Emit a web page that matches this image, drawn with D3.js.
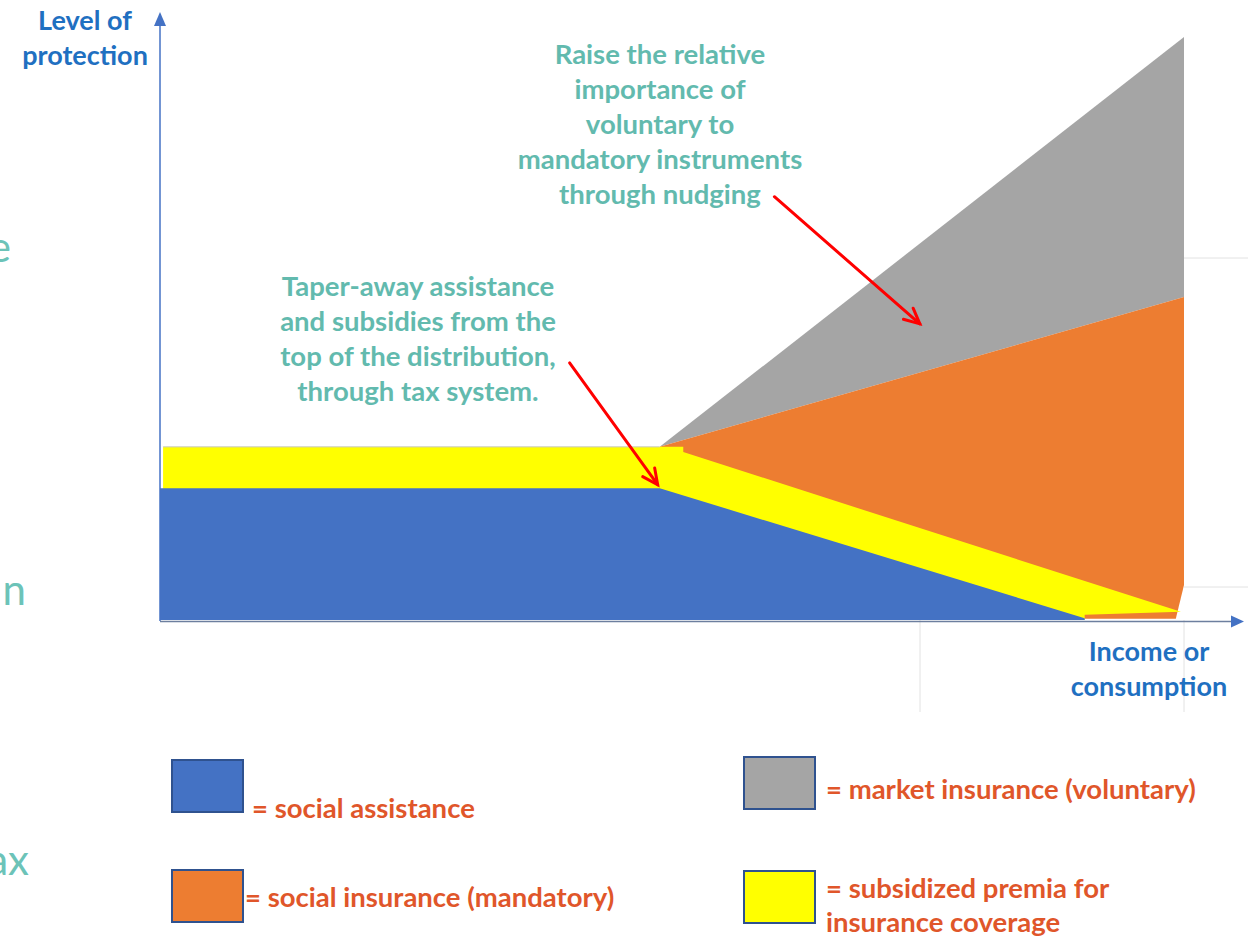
<!DOCTYPE html>
<html>
<head>
<meta charset="utf-8">
<script src="https://cdn.jsdelivr.net/npm/d3@7"></script>
<style>
  body { margin: 0; background: #fff; }
  text { font-family: Lato, "Open Sans", sans-serif; font-weight: 700; }
  text.frag { font-weight: 400; }
</style>
</head>
<body>
<div id="chart"></div>
<script>
// polygon outlines of each layer, in (income, protection) units 0..100
var socialAssistance = [[0, 0], [0, 22.6], [48.8, 22.6], [90.3, 0.3], [90.3, 0]];
// the yellow band reaches down under the blue so no seam shows
var subsidizedPremia = [[0.3, 29.7], [51.1, 29.7], [51.1, 28.8], [99.7, 1.4], [90.3, 0.9], [90.3, 0], [0.3, 0]];
var socialInsurance = [[48.8, 29.7], [100, 55.4], [100, 6.0], [99.2, 0.2], [90.3, 0.2]];
var marketInsurance = [[48.8, 29.7], [100, 100], [100, 55.4]];

var legendLabels = ["= social assistance", "= social insurance (mandatory)",
                    "= market insurance (voluntary)", "= subsidized premia for|insurance coverage"];

var noteNudging = ["Raise the relative", "importance of", "voluntary to", "mandatory instruments", "through nudging"];
var noteTaper = ["Taper-away assistance", "and subsidies from the", "top of the distribution,", "through tax system."];

// arrows: [x1, y1, x2, y2] in data units
var arrows = [[60.0, 72.6, 74.2, 50.8], [40.0, 44.1, 48.6, 23.2]];

var width = 1248, height = 937;

var svg = d3.select("#chart").append("svg")
    .attr("width", width)
    .attr("height", height);

var x = d3.scaleLinear().domain([0, 100]).range([160, 1184]);
var y = d3.scaleLinear().domain([0, 100]).range([620, 37]);

var line = d3.line()
    .x(function(d) { return x(d[0]); })
    .y(function(d) { return y(d[1]); });

var colors = {
  blue: "#4472C4",
  orange: "#ED7D31",
  gray: "#A5A5A5",
  yellow: "#FFFF00"
};

// faint slide-table lines behind the chart
var faint = [[920, 620, 920, 712], [1184, 620, 1184, 712], [1184, 258, 1248, 258], [1184, 587, 1248, 587]];
svg.selectAll(".faint").data(faint).enter().append("line")
    .attr("x1", d => d[0]).attr("y1", d => d[1])
    .attr("x2", d => d[2]).attr("y2", d => d[3])
    .attr("stroke", "#e2e2e2").attr("stroke-width", 1);

// areas
var layers = [
  { pts: marketInsurance, fill: colors.gray },
  { pts: socialInsurance, fill: colors.orange },
  { pts: subsidizedPremia, fill: colors.yellow },
  { pts: socialAssistance, fill: colors.blue }
];
svg.selectAll(".area").data(layers).enter().append("path")
    .attr("d", d => line(d.pts) + "Z")
    .attr("fill", d => d.fill);

// thin outline on top of the yellow band
svg.append("line")
    .attr("x1", x(0.3)).attr("x2", x(48.8))
    .attr("y1", y(29.7)).attr("y2", y(29.7))
    .attr("stroke", "#c9c9c9").attr("stroke-width", 1);

// axes
var axisColor = "#4472C4";
svg.append("line")
    .attr("x1", x(0)).attr("y1", y(0) + 1)
    .attr("x2", x(0)).attr("y2", 24)
    .attr("stroke", axisColor).attr("stroke-width", 1.5);
svg.append("path")
    .attr("d", "M" + x(0) + ",12 L" + (x(0) - 6) + ",26 L" + (x(0) + 6) + ",26 Z")
    .attr("fill", axisColor);
svg.append("line")
    .attr("x1", x(0)).attr("y1", y(0) + 1.5)
    .attr("x2", 1234).attr("y2", y(0) + 1.5)
    .attr("stroke", "#6d7f9f").attr("stroke-width", 1.5);
svg.append("path")
    .attr("d", "M1244," + (y(0) + 1.5) + " L1231," + (y(0) - 4.5) + " L1231," + (y(0) + 7.5) + " Z")
    .attr("fill", axisColor);

// axis titles
var axisBlue = "#1F70C1";
svg.append("text").attr("x", 85).attr("y", 30).attr("text-anchor", "middle")
    .attr("font-size", 27).attr("fill", axisBlue).text("Level of");
svg.append("text").attr("x", 85).attr("y", 65).attr("text-anchor", "middle")
    .attr("font-size", 27).attr("fill", axisBlue).text("protection");
svg.append("text").attr("x", 1149).attr("y", 661).attr("text-anchor", "middle")
    .attr("font-size", 27).attr("fill", axisBlue).text("Income or");
svg.append("text").attr("x", 1149).attr("y", 696).attr("text-anchor", "middle")
    .attr("font-size", 27).attr("fill", axisBlue).text("consumption");

// annotations
var teal = "#62BAAE";
svg.append("g").selectAll("text").data(noteNudging).enter().append("text")
    .attr("x", 660).attr("y", (d, i) => 64 + i * 35)
    .attr("text-anchor", "middle").attr("font-size", 27.5).attr("fill", teal)
    .text(d => d);
svg.append("g").selectAll("text").data(noteTaper).enter().append("text")
    .attr("x", 418).attr("y", (d, i) => 296 + i * 35)
    .attr("text-anchor", "middle").attr("font-size", 27.5).attr("fill", teal)
    .text(d => d);

// red arrows
var arrowG = svg.append("g").attr("stroke", "#FF0000").attr("stroke-width", 3)
    .attr("fill", "none").attr("stroke-linecap", "round");
arrows.forEach(function(a) {
  var x1 = x(a[0]), y1 = y(a[1]), x2 = x(a[2]), y2 = y(a[3]);
  var ang = Math.atan2(y2 - y1, x2 - x1), len = 17, spread = Math.PI / 7;
  arrowG.append("line").attr("x1", x1).attr("y1", y1).attr("x2", x2).attr("y2", y2);
  arrowG.append("path").attr("d",
      "M" + (x2 - len * Math.cos(ang - spread)) + "," + (y2 - len * Math.sin(ang - spread)) +
      " L" + x2 + "," + y2 +
      " L" + (x2 - len * Math.cos(ang + spread)) + "," + (y2 - len * Math.sin(ang + spread)));
});

// cut-off text from the slide behind, on the left edge
var fragColor = "#6CC3B8";
[["e", 11, 262], ["n", 26, 605], ["ax", 29, 875]].forEach(function(f) {
  svg.append("text").attr("class", "frag").attr("x", f[1]).attr("y", f[2]).attr("text-anchor", "end")
      .attr("font-size", 42).attr("fill", fragColor).text(f[0]);
});

// legend
var legendColor = "#E0562A";
var legend = [
  { fill: colors.blue, box: [172, 760], tx: 252, ty: 818, label: legendLabels[0] },
  { fill: colors.orange, box: [172, 870], tx: 245, ty: 907, label: legendLabels[1] },
  { fill: colors.gray, box: [744, 757], tx: 826, ty: 799, label: legendLabels[2] },
  { fill: colors.yellow, box: [744, 871], tx: 826, ty: 898, label: legendLabels[3] }
];
var lg = svg.append("g").selectAll("g").data(legend).enter().append("g");
lg.append("rect")
    .attr("x", d => d.box[0]).attr("y", d => d.box[1])
    .attr("width", 71).attr("height", 52)
    .attr("fill", d => d.fill)
    .attr("stroke", "#2F528F").attr("stroke-width", 2);
lg.each(function(d) {
  var parts = d.label.split("|");
  var g = d3.select(this);
  parts.forEach(function(p, i) {
    g.append("text").attr("x", d.tx).attr("y", d.ty + i * 34)
        .attr("font-size", 27.5).attr("fill", legendColor).text(p);
  });
});
</script>
</body>
</html>
